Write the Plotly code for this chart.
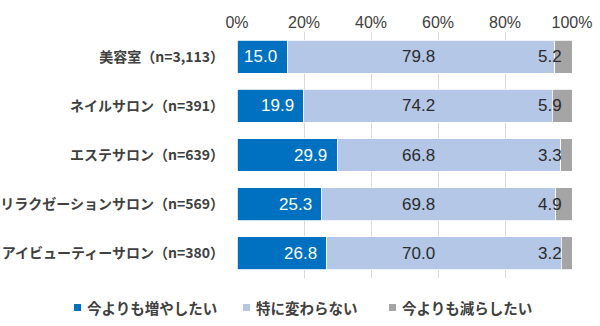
import plotly.graph_objects as go

categories = ["美容室（n=3,113）", "ネイルサロン（n=391）", "エステサロン（n=639）",
              "リラクゼーションサロン（n=569）", "アイビューティーサロン（n=380）"]
series_names = ["今よりも増やしたい", "特に変わらない", "今よりも減らしたい"]
increase = [15.0, 19.9, 29.9, 25.3, 26.8]
same = [79.8, 74.2, 66.8, 69.8, 70.0]
decrease = [5.2, 5.9, 3.3, 4.9, 3.2]
tick_vals = [0, 20, 40, 60, 80, 100]
tick_text = ["0%", "20%", "40%", "60%", "80%", "100%"]

colors = ["#0070C0", "#B4C7E7", "#A5A5A5"]
NUMFONT = "Liberation Sans, Noto Sans CJK JP, sans-serif"
JPFONT = "Noto Sans CJK JP, sans-serif"
DARK = "#404040"
LABEL = "#2b2b2b"

# plot area in pixels (for converting legend pixel positions to paper coords)
L, R, T, B = 237, 28, 32, 48
PW, PH = 600 - L - R, 326 - T - B

fig = go.Figure()
fig.add_trace(go.Bar(
    y=categories, x=increase, orientation="h", name=series_names[0],
    marker=dict(color=colors[0], line=dict(color="white", width=0.8)),
    showlegend=False, hoverinfo="x+y"))
fig.add_trace(go.Bar(
    y=categories, x=same, orientation="h", name=series_names[1],
    marker=dict(color=colors[1], line=dict(color="white", width=0.8)),
    showlegend=False, hoverinfo="x+y"))
fig.add_trace(go.Bar(
    y=categories, x=decrease, orientation="h", name=series_names[2],
    marker=dict(color=colors[2], line=dict(color="white", width=0.8)),
    showlegend=False, hoverinfo="x+y"))

annotations = []
for cat, v in zip(categories, increase):
    annotations.append(dict(x=v, y=cat, xref="x", yref="y", text=f"{v:.1f}",
                            showarrow=False, xanchor="right", xshift=-8,
                            font=dict(color="white", size=17, family=NUMFONT)))
for cat, v in zip(categories, same):
    annotations.append(dict(x=54.3, y=cat, xref="x", yref="y", text=f"{v:.1f}",
                            showarrow=False, xanchor="center",
                            font=dict(color=LABEL, size=17, family=NUMFONT)))
for cat, v in zip(categories, decrease):
    annotations.append(dict(x=100, y=cat, xref="x", yref="y", text=f"{v:.1f}",
                            showarrow=False, xanchor="right", xshift=-8,
                            font=dict(color=LABEL, size=17, family=NUMFONT)))

# legend built from text + small squares
legend_x = [85, 254, 400]
legend_y = 307
shapes = []
for name, col, lx in zip(series_names, colors, legend_x):
    annotations.append(dict(x=(lx - L) / PW, y=(326 - B - legend_y) / PH,
                            xref="paper", yref="paper",
                            text=f"<b>{name}</b>", showarrow=False, xanchor="left",
                            yanchor="middle",
                            font=dict(color=DARK, size=14.5, family=JPFONT)))
    shapes.append(dict(type="rect", xref="paper", yref="paper",
                       x0=(lx - 11 - L) / PW, x1=(lx - 4 - L) / PW,
                       y0=(326 - B - legend_y - 4) / PH, y1=(326 - B - legend_y + 3) / PH,
                       fillcolor=col, line=dict(width=0)))

fig.update_layout(
    barmode="stack",
    bargap=0.33,
    width=600, height=326,
    margin=dict(l=L, r=R, t=T, b=B, autoexpand=False),
    paper_bgcolor="white", plot_bgcolor="white",
    font=dict(family=NUMFONT, color=DARK),
    annotations=annotations,
    shapes=shapes,
    xaxis=dict(range=[0, 100], side="top", tickvals=tick_vals, ticktext=tick_text,
               showgrid=True, gridcolor="#D9D9D9", gridwidth=1, zeroline=False,
               showline=False, ticks="", tickfont=dict(size=16, color=DARK),
               fixedrange=True),
    yaxis=dict(categoryorder="array", categoryarray=categories, autorange="reversed",
               showgrid=False, zeroline=False, showline=False, ticks="",
               ticklabelstandoff=12,
               tickfont=dict(size=14, color=DARK, family=JPFONT), fixedrange=True),
)
fig.update_yaxes(tickvals=categories, ticktext=[f"<b>{c}</b>" for c in categories])

fig.write_html("out.html")
